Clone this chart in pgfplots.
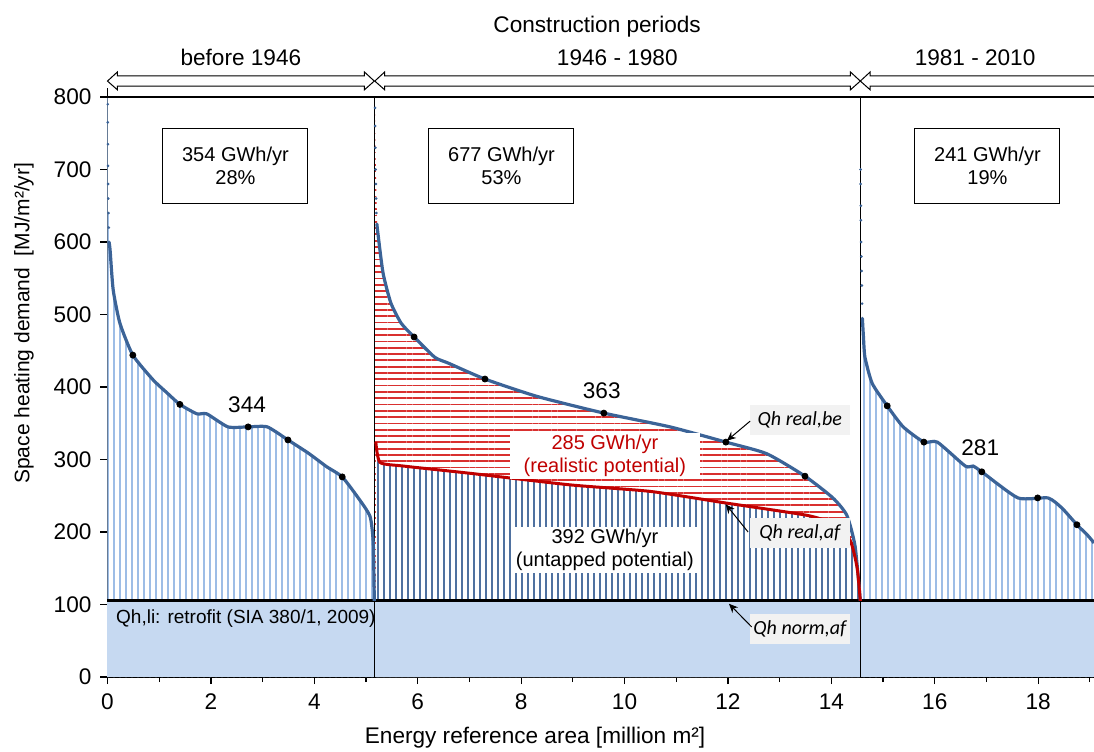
\documentclass[border=0pt]{standalone}
\usepackage{fontspec}
\setmainfont{Liberation Sans}
\newfontfamily\calib{Carlito}
\usepackage{pgfplots}
\pgfplotsset{compat=1.18}
\usetikzlibrary{patterns.meta,arrows.meta}
\definecolor{curveblue}{HTML}{3B6397}
\definecolor{lightline}{HTML}{9DBDE6}
\definecolor{darkline}{HTML}{4F71A0}
\definecolor{hatchred}{HTML}{D9302F}
\definecolor{curvered}{HTML}{C00000}
\definecolor{baseblue}{HTML}{C6D9F1}
\definecolor{labelgray}{HTML}{F2F2F2}
\begin{document}
\begin{tikzpicture}
\begin{axis}[
  at={(0,0)}, anchor=south west,
  scale only axis, width=493.25pt, height=290pt,
  xmin=0, xmax=19.08, ymin=0, ymax=800,
  axis x line*=bottom, axis y line*=left,
  xtick={0,2,...,18}, minor xtick={1,3,...,19},
  ytick={0,100,...,800},
  tick align=outside,
  major tick length=3.5pt, minor tick length=2.5pt,
  every tick/.style={black, line width=0.6pt},
  axis line style={black, line width=0.8pt},
  clip=false,
  tick label style={font=\fontsize{11.3}{13}\selectfont},
  /pgf/number format/assume math mode=true,
  xticklabel style={yshift=-1.5pt},
  yticklabel style={xshift=-1pt},
]
% ---- period 1 hatch
\addplot[draw=none, smooth, tension=0.35, pattern={Lines[angle=90,distance=3pt,line width=0.85pt]}, pattern color=lightline]
 coordinates {(0,800) (0.01,700) (0.03,620) (0.05,589) (0.11,534) (0.24,488) (0.49,444) (0.88,410) (1.15,392) (1.40,376) (1.73,363) (1.92,363) (2.33,345) (2.72,345) (3.09,345) (3.49,327) (3.88,309) (4.24,290) (4.54,276) (4.88,244) (5.08,221) (5.14,185) (5.16,105)} \closedcycle;
% ---- period 2 red hatch (under blue curve)
\addplot[draw=none, smooth, tension=0.35, pattern={Lines[angle=0,distance=3.15pt,line width=0.9pt]}, pattern color=hatchred]
 coordinates {(5.17,800) (5.19,700) (5.21,640) (5.23,612) (5.33,557) (5.48,516) (5.68,488) (5.93,469) (6.33,441) (6.59,433) (7.30,411) (8.31,387) (9.60,364) (10.88,345) (11.96,324) (12.75,308) (13.49,277) (14.03,247) (14.30,223) (14.46,180) (14.56,105)} \closedcycle;
% ---- period 2 dark hatch (under red curve)
\addplot[draw=none, smooth, tension=0.35, preaction={fill=white}, pattern={Lines[angle=90,distance=3pt,line width=0.85pt]}, pattern color=darkline]
 coordinates {(5.19,324) (5.27,296) (5.72,291) (7.01,281) (8.95,265) (10.5,256) (11.96,240) (13.53,223) (14.0,212) (14.36,189) (14.50,150) (14.56,105)} \closedcycle;
% ---- period 3 hatch
\addplot[draw=none, smooth, tension=0.35, pattern={Lines[angle=90,distance=3pt,line width=0.85pt]}, pattern color=lightline]
 coordinates {(14.57,703) (14.58,600) (14.60,520) (14.62,470) (14.65,441) (14.79,405) (15.08,374) (15.39,345) (15.79,324) (16.05,324) (16.59,291) (16.74,291) (16.91,283) (17.61,247) (18.19,247) (18.46,233) (18.75,210) (18.95,196) (19.08,185)} \closedcycle;
% ---- base area (Qh norm,af)
\addplot[draw=none, fill=baseblue] coordinates {(0,105) (19.08,105)} \closedcycle;
\addplot[black, line width=1.5pt] coordinates {(0,105) (19.08,105)};
% ---- dividers and top line
\draw[black, line width=0.6pt] (axis cs:5.17,0) -- (axis cs:5.17,800);
\draw[black, line width=0.6pt] (axis cs:14.56,0) -- (axis cs:14.56,800);
\draw[black, line width=0.6pt] (axis cs:0,800) -- (axis cs:19.08,800);
\draw[black, line width=0.6pt] (axis cs:0,800) -- (axis cs:0,812);
% ---- sparse upper points
\addplot[only marks, mark=*, mark size=0.45pt, curveblue] coordinates {(0.005,790) (0.005,765) (0.008,735) (0.01,705) (0.012,680) (0.015,660) (0.02,640) (0.025,620) (0.03,600)};
\addplot[only marks, mark=*, mark size=0.45pt, curveblue] coordinates {(5.175,785) (5.175,760) (5.18,730) (5.185,700) (5.19,680) (5.195,660) (5.2,640) (5.21,625)};
\addplot[only marks, mark=*, mark size=0.45pt, curveblue] coordinates {(14.565,700) (14.565,680) (14.57,650) (14.57,630) (14.575,600) (14.58,580) (14.585,560) (14.59,540) (14.595,515) (14.6,495)};
% ---- curves
\addplot[curveblue, line width=1.6pt, smooth, tension=0.35] coordinates {(0.03,600) (0.05,589) (0.11,534) (0.24,488) (0.49,444) (0.88,410) (1.15,392) (1.40,376) (1.73,363) (1.92,363) (2.33,345) (2.72,345) (3.09,345) (3.49,327) (3.88,309) (4.24,290) (4.54,276) (4.88,244) (5.08,221) (5.14,185) (5.16,105)};
\addplot[curveblue, line width=1.6pt, smooth, tension=0.35] coordinates {(5.21,625) (5.23,612) (5.33,557) (5.48,516) (5.68,488) (5.93,469) (6.33,441) (6.59,433) (7.30,411) (8.31,387) (9.60,364) (10.88,345) (11.96,324) (12.75,308) (13.49,277) (14.03,247) (14.30,223) (14.46,180) (14.56,105)};
\addplot[curvered, line width=1.5pt, smooth, tension=0.35] coordinates {(5.19,324) (5.27,296) (5.72,291) (7.01,281) (8.95,265) (10.5,256) (11.96,240) (13.53,223) (14.0,212) (14.36,189) (14.50,150) (14.56,105)};
\addplot[curveblue, line width=1.6pt, smooth, tension=0.35] coordinates {(14.6,495) (14.62,470) (14.65,441) (14.79,405) (15.08,374) (15.39,345) (15.79,324) (16.05,324) (16.59,291) (16.74,291) (16.91,283) (17.61,247) (18.19,247) (18.46,233) (18.75,210) (18.95,196) (19.08,185)};
% ---- black dots
\addplot[only marks, mark=*, mark size=1.5pt, black] coordinates {(0.49,444) (1.40,376) (2.72,345) (3.49,327) (4.54,276) (5.93,469) (7.30,411) (9.60,364) (11.96,324) (13.49,277) (15.08,374) (15.79,324) (16.91,283) (17.99,247) (18.75,210)};
% ---- value labels
\node[font=\fontsize{11.3}{13}\selectfont] at (axis cs:2.70,375) {344};
\node[font=\fontsize{11.3}{13}\selectfont] at (axis cs:9.56,395) {363};
\node[font=\fontsize{11.3}{13}\selectfont] at (axis cs:16.88,316) {281};
% ---- boxes
\tikzset{pbox/.style={draw=black, line width=0.5pt, fill=white, minimum width=72.5pt, minimum height=37.5pt, align=center, font=\fontsize{10}{11.5}\selectfont}}
\node[pbox] at (axis cs:2.475,705.5) {354 GWh/yr\\28\%};
\node[pbox] at (axis cs:7.62,705.5) {677 GWh/yr\\53\%};
\node[pbox] at (axis cs:17.02,705.5) {241 GWh/yr\\19\%};
\node[fill=white, text=curvered, minimum width=95pt, minimum height=22pt, align=center, inner sep=1pt, font=\fontsize{10}{11.5}\selectfont] at (axis cs:9.62,304.8) {285 GWh/yr\\(realistic potential)};
\node[fill=white, text=black, minimum width=93pt, minimum height=23pt, align=center, inner sep=1pt, font=\fontsize{10}{11.5}\selectfont] at (axis cs:9.62,175) {392 GWh/yr\\(untapped potential)};
\node[anchor=west, font=\fontsize{9.5}{11}\selectfont, inner sep=0pt] at (axis cs:0.16,81) {Qh,li: retrofit (SIA 380/1, 2009)};
% ---- Qh labels
\tikzset{qbox/.style={fill=labelgray, minimum width=50pt, minimum height=15pt, inner sep=1pt, font=\calib\itshape\fontsize{10}{12}\selectfont}}
\node[qbox] at (axis cs:13.39,355) {Qh real,be};
\node[qbox] at (axis cs:13.39,198.6) {Qh real,af};
\node[qbox] at (axis cs:13.39,66.2) {Qh norm,af};
\draw[-{Stealth[length=4.5pt,width=4pt]}, line width=0.5pt] (axis cs:12.43,353) -- (axis cs:11.98,326);
\draw[-{Stealth[length=4.5pt,width=4pt]}, line width=0.5pt] (axis cs:12.39,200) -- (axis cs:11.96,238);
\draw[-{Stealth[length=4.5pt,width=4pt]}, line width=0.5pt] (axis cs:12.46,69) -- (axis cs:12.02,101);
% ---- header arrows
\draw[black, line width=0.5pt, fill=white] (axis cs:0,822) -- (axis cs:0.19,834.5) -- (axis cs:0.19,829) -- (axis cs:4.97,829) -- (axis cs:4.97,834.5) -- (axis cs:5.16,822) -- (axis cs:4.97,810) -- (axis cs:4.97,815) -- (axis cs:0.19,815) -- (axis cs:0.19,810) -- cycle;
\draw[black, line width=0.5pt, fill=white] (axis cs:5.17,822) -- (axis cs:5.36,834.5) -- (axis cs:5.36,829) -- (axis cs:14.37,829) -- (axis cs:14.37,834.5) -- (axis cs:14.56,822) -- (axis cs:14.37,810) -- (axis cs:14.37,815) -- (axis cs:5.36,815) -- (axis cs:5.36,810) -- cycle;
\draw[black, line width=0.5pt] (axis cs:19.08,829) -- (axis cs:14.75,829) -- (axis cs:14.75,834.5) -- (axis cs:14.56,822) -- (axis cs:14.75,810) -- (axis cs:14.75,815) -- (axis cs:19.08,815);
% ---- header texts
\node[font=\fontsize{11.3}{13}\selectfont] at (axis cs:9.47,897) {Construction periods};
\node[font=\fontsize{11.3}{13}\selectfont] at (axis cs:2.58,854) {before 1946};
\node[font=\fontsize{11.3}{13}\selectfont] at (axis cs:9.86,854) {1946 - 1980};
\node[font=\fontsize{11.3}{13}\selectfont] at (axis cs:16.78,854) {1981 - 2010};
% ---- axis labels
\node[font=\fontsize{11.3}{13}\selectfont] at (axis cs:8.27,-84) {Energy reference area [million m²]};
\node[rotate=90, font=\fontsize{10.5}{12}\selectfont] at (axis cs:-1.615,488) {Space heating demand~~[MJ/m²/yr]};
\end{axis}
\pgfresetboundingbox
\path[use as bounding box] (-53.75pt,-37pt) rectangle (493.25pt,338.5pt);
\end{tikzpicture}
\end{document}
